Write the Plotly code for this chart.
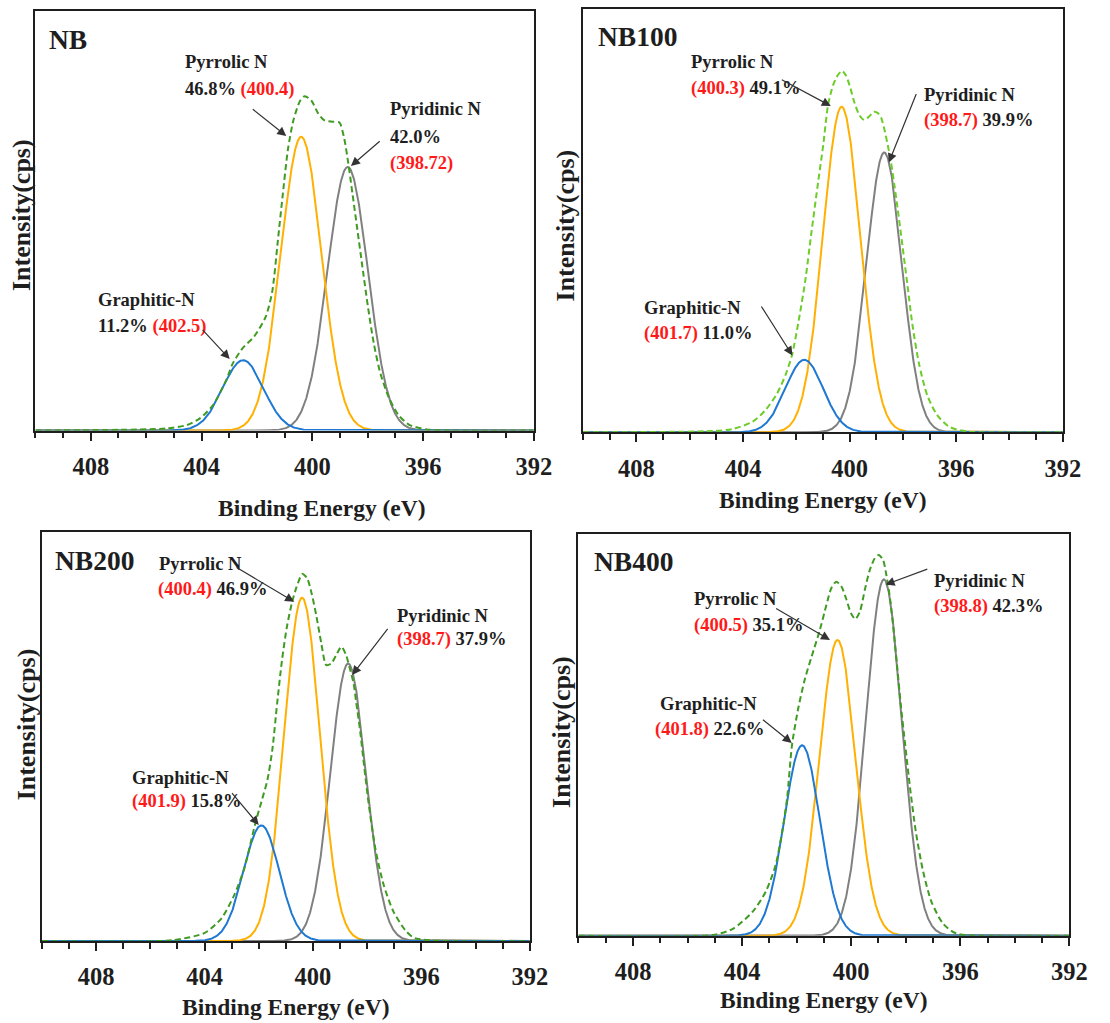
import numpy as np
import plotly.graph_objects as go

W, H = 1110, 1023

SAMPLES = ["NB", "NB100", "NB200", "NB400"]
SPECIES = ["Graphitic-N", "Pyrrolic N", "Pyridinic N"]

# Fitted N 1s components (order: Graphitic-N, Pyrrolic N, Pyridinic N)
BE_NB = [402.5, 400.4, 398.72]
PCT_NB = [11.2, 46.8, 42.0]
FWHM_NB = [1.72, 1.72, 1.72]

BE_NB100 = [401.7, 400.3, 398.7]
PCT_NB100 = [11.0, 49.1, 39.9]
FWHM_NB100 = [1.66, 1.65, 1.56]

BE_NB200 = [401.9, 400.4, 398.7]
PCT_NB200 = [15.8, 46.9, 37.9]
FWHM_NB200 = [1.55, 1.55, 1.55]

BE_NB400 = [401.8, 400.5, 398.8]
PCT_NB400 = [22.6, 35.1, 42.3]
FWHM_NB400 = [1.55, 1.55, 1.55]

# Total N 1s peak area of each sample (relative intensity x eV)
TOTAL_AREA = [2.739, 2.751, 2.955, 3.460]

# Measured N 1s envelopes (binding energy in eV, relative intensity)
ENV_BE_NB = [410.0, 405.24, 404.53, 404.06, 403.58, 403.11, 402.87, 402.52, 402.10,
             401.69, 401.45, 401.24, 401.07, 400.88, 400.68, 400.44, 400.27, 400.03,
             399.79, 399.56, 399.26, 399.02, 398.85, 398.70, 398.55, 398.37, 398.19,
             397.99, 397.78, 397.54, 397.25, 396.89, 396.48, 395.8, 392.0]
ENV_INT_NB = [0.0, 0.005, 0.013, 0.029, 0.061, 0.120, 0.160, 0.196, 0.224,
              0.270, 0.330, 0.455, 0.560, 0.670, 0.740, 0.786, 0.797, 0.786,
              0.756, 0.739, 0.736, 0.734, 0.697, 0.637, 0.565, 0.478, 0.390,
              0.295, 0.208, 0.136, 0.081, 0.037, 0.013, 0.002, 0.0]

ENV_BE_NB100 = [410.0, 405.12, 404.38, 403.64, 403.15, 402.72, 402.41, 402.16, 401.92,
                401.67, 401.43, 401.18, 400.99, 400.81, 400.62, 400.44, 400.28, 400.13,
                399.97, 399.83, 399.64, 399.46, 399.27, 399.09, 398.94, 398.81, 398.69,
                398.57, 398.45, 398.32, 398.20, 398.02, 397.83, 397.65, 397.40, 397.09,
                396.72, 396.26, 395.6, 392.0]
ENV_INT_NB100 = [0.0, 0.003, 0.008, 0.025, 0.053, 0.092, 0.135, 0.183, 0.261,
                 0.356, 0.474, 0.592, 0.679, 0.773, 0.820, 0.844, 0.854, 0.842,
                 0.813, 0.781, 0.750, 0.738, 0.746, 0.757, 0.754, 0.742, 0.714,
                 0.679, 0.639, 0.584, 0.529, 0.442, 0.348, 0.257, 0.163, 0.088,
                 0.041, 0.013, 0.002, 0.0]

ENV_BE_NB200 = [410.0, 405.19, 403.99, 403.38, 402.90, 402.53, 402.29, 402.11, 401.90,
                401.68, 401.50, 401.32, 401.14, 400.96, 400.78, 400.60, 400.39, 400.21,
                400.05, 399.87, 399.69, 399.51, 399.32, 399.14, 398.95, 398.78, 398.64,
                398.50, 398.40, 398.27, 398.11, 397.93, 397.69, 397.39, 397.03, 396.60,
                396.24, 392.0]
ENV_INT_NB200 = [0.0, 0.002, 0.020, 0.055, 0.113, 0.178, 0.243, 0.292, 0.341,
                 0.394, 0.467, 0.582, 0.688, 0.769, 0.826, 0.867, 0.898, 0.887,
                 0.851, 0.794, 0.728, 0.675, 0.679, 0.700, 0.720, 0.700, 0.667,
                 0.630, 0.582, 0.520, 0.427, 0.329, 0.223, 0.137, 0.072, 0.027,
                 0.007, 0.0]

ENV_BE_NB400 = [410.0, 405.06, 404.34, 403.61, 403.13, 402.77, 402.53, 402.35, 402.17,
                401.93, 401.69, 401.45, 401.15, 400.91, 400.73, 400.55, 400.37, 400.19,
                400.01, 399.85, 399.68, 399.50, 399.32, 399.14, 398.99, 398.83, 398.71,
                398.56, 398.44, 398.32, 398.18, 398.02, 397.84, 397.63, 397.36, 397.06,
                396.64, 396.16, 392.0]
ENV_INT_NB400 = [0.0, 0.002, 0.017, 0.060, 0.110, 0.176, 0.259, 0.342, 0.475,
                 0.570, 0.641, 0.695, 0.761, 0.823, 0.865, 0.881, 0.871, 0.840,
                 0.803, 0.788, 0.807, 0.861, 0.910, 0.939, 0.948, 0.935, 0.898,
                 0.831, 0.757, 0.674, 0.574, 0.475, 0.367, 0.259, 0.159, 0.085,
                 0.031, 0.006, 0.0]

TICK_BE = [408, 404, 400, 396, 392]

BE = [BE_NB, BE_NB100, BE_NB200, BE_NB400]
PCT = [PCT_NB, PCT_NB100, PCT_NB200, PCT_NB400]
FWHM = [FWHM_NB, FWHM_NB100, FWHM_NB200, FWHM_NB400]
ENV_BE = [ENV_BE_NB, ENV_BE_NB100, ENV_BE_NB200, ENV_BE_NB400]
ENV_INT = [ENV_INT_NB, ENV_INT_NB100, ENV_INT_NB200, ENV_INT_NB400]

# ---- styling ----
FONT = "Liberation Serif, Times New Roman, serif"
INK = "#1e1e1e"
RED = "#ff1a1a"
COMP_COLORS = ["#1f78d2", "#ffb000", "#808080"]
ENV_COLORS = ["#3f9b22", "#6ccc28", "#3f9b22", "#3f9b22"]

# plot frames in page pixels: (left, top, right, bottom)
BOXES = [(36, 11, 542.6, 430.5), (592.8, 9, 1080.3, 432.3),
         (42.6, 532.3, 538.5, 941.0), (588, 534, 1087, 935.7)]


def fx(px):
    return px / W


def fy(py):
    return 1 - py / H


def gauss(x, center, area, fwhm):
    height = area / (fwhm * np.sqrt(np.pi / (4 * np.log(2))))
    return height * np.exp(-4 * np.log(2) * (x - center) ** 2 / fwhm ** 2)


def red(s):
    return f"<span style='color:{RED}'>{s}</span>"


fig = go.Figure()
grid = np.linspace(392, 410, 1801)

for i, sample in enumerate(SAMPLES):
    sfx = "" if i == 0 else str(i + 1)
    xa, ya = "x" + sfx, "y" + sfx
    # grey, orange, blue, then the envelope on top
    for j in [2, 1, 0]:
        area = TOTAL_AREA[i] * PCT[i][j] / 100
        fig.add_trace(go.Scatter(
            x=grid, y=gauss(grid, BE[i][j], area, FWHM[i][j]),
            mode="lines", line=dict(color=COMP_COLORS[j], width=2),
            name=SPECIES[j], showlegend=False, xaxis=xa, yaxis=ya,
            hoverinfo="skip"))
    fig.add_trace(go.Scatter(
        x=ENV_BE[i], y=ENV_INT[i], mode="lines",
        line=dict(color=ENV_COLORS[i], width=2, dash="6px,3.5px",
                  shape="spline", smoothing=0.7),
        name=sample, showlegend=False, xaxis=xa, yaxis=ya, hoverinfo="skip"))

    x0, y0, x1, y1 = BOXES[i]
    fig.layout["xaxis" + sfx] = dict(
        domain=[fx(x0), fx(x1)], anchor=ya, range=[410, 392],
        tickmode="array", tickvals=TICK_BE, ticks="outside", ticklen=8,
        tickwidth=2, tickcolor=INK, showline=True, linewidth=2, linecolor=INK,
        mirror=True, showgrid=False, zeroline=False,
        tickfont=dict(family=FONT, size=24.5, color=INK, weight="bold"),
        ticklabelstandoff=5,
        minor=dict(ticks="outside", ticklen=5.5, tickwidth=1.6, tickcolor=INK,
                   tickmode="linear", tick0=392, dtick=1, showgrid=False))
    fig.layout["yaxis" + sfx] = dict(
        domain=[fy(y1), fy(y0)], anchor=xa, range=[0, 1],
        showticklabels=False, ticks="", showline=True, linewidth=2,
        linecolor=INK, mirror=True, showgrid=False, zeroline=False)

# ---- text ----
ann = []


def text(s, px, py, size=18.5, anchor="left"):
    ann.append(dict(text=s, x=fx(px), y=fy(py), xref="paper", yref="paper",
                    xanchor=anchor, yanchor="middle", showarrow=False,
                    font=dict(family=FONT, size=size, color=INK, weight="bold")))


def arrow(tx, ty, hx, hy):
    ann.append(dict(text="", x=fx(hx), y=fy(hy), xref="paper", yref="paper",
                    ax=tx - hx, ay=ty - hy, axref="pixel", ayref="pixel",
                    showarrow=True, arrowhead=2, arrowsize=1.5, arrowwidth=1.2,
                    arrowcolor="#333333", standoff=0, startstandoff=0))


def pct_s(i, j):
    return f"{PCT[i][j]:.1f}%"


def be_s(i, j):
    return red(f"({BE[i][j]:g})")


# panel tags
TAG_POS = [(48, 40), (605.7, 36.7), (53.7, 560), (602.1, 561.7)]
for i, sample in enumerate(SAMPLES):
    text(sample, TAG_POS[i][0], TAG_POS[i][1], size=27.5)

# NB
text(SPECIES[1], 186.5, 61.7)
text(f"{pct_s(0, 1)} {be_s(0, 1)}", 186.5, 89.7)
text(SPECIES[2], 394, 109)
text(pct_s(0, 2), 394, 136.7)
text(be_s(0, 2), 394, 164)
text(SPECIES[0], 98, 300)
text(f"{pct_s(0, 0)} {be_s(0, 0)}", 98, 326.7)
arrow(256, 108, 291, 136)
arrow(387, 140, 356.7, 166)
arrow(205, 328.3, 233.5, 359)

# NB100
text(SPECIES[1], 700.5, 62)
text(f"{be_s(1, 1)} {pct_s(1, 1)}", 700, 88.3)
text(SPECIES[2], 937, 94.5)
text(f"{be_s(1, 2)} {pct_s(1, 2)}", 937, 120)
text(SPECIES[0], 652.4, 308.3)
text(f"{be_s(1, 0)} {pct_s(1, 0)}", 652.4, 333.3)
arrow(794, 79, 844.5, 106)
arrow(931.5, 92.5, 903.5, 162.5)
arrow(773.5, 305, 805.5, 355.5)

# NB200
text(SPECIES[1], 159.2, 563.7)
text(f"{be_s(2, 1)} {pct_s(2, 1)}", 158.5, 589.7)
text(SPECIES[2], 401.4, 615.5)
text(f"{be_s(2, 2)} {pct_s(2, 2)}", 401.4, 639.7)
text(SPECIES[0], 132.4, 777.8)
text(f"{be_s(2, 0)} {pct_s(2, 0)}", 131.7, 801.7)
arrow(240, 566.7, 299, 601.7)
arrow(394.6, 627.3, 358, 675)
arrow(235, 791.7, 263, 825)

# NB400
text(SPECIES[2], 947.7, 580.5)
text(f"{be_s(3, 2)} {pct_s(3, 2)}", 947.7, 606.7)
text(SPECIES[1], 703.9, 598.8)
text(f"{be_s(3, 1)} {pct_s(3, 1)}", 703.9, 625)
text(SPECIES[0], 668.8, 704)
text(f"{be_s(3, 0)} {pct_s(3, 0)}", 664.2, 729.7)
arrow(943.4, 568.6, 900.2, 584.6)
arrow(788.3, 607.7, 843.7, 640)
arrow(774.5, 718.6, 804.8, 743)

# axis titles
XTITLE_POS = [(327, 508), (837, 500), (291.2, 1006.7), (838, 1000)]
YTITLE_POS = [(21.4, 215), (574.8, 225), (26.8, 724), (570.5, 731.7)]
for i in range(4):
    text("Binding Energy (eV)", XTITLE_POS[i][0], XTITLE_POS[i][1],
         size=23.5, anchor="center")
    ann.append(dict(text="Intensity(cps)", x=fx(YTITLE_POS[i][0]),
                    y=fy(YTITLE_POS[i][1]), xref="paper", yref="paper",
                    xanchor="center", yanchor="middle", showarrow=False,
                    textangle=-90,
                    font=dict(family=FONT, size=26, color=INK, weight="bold")))

fig.update_layout(
    width=W, height=H, margin=dict(l=0, r=0, t=0, b=0),
    paper_bgcolor="white", plot_bgcolor="white",
    annotations=ann, showlegend=False,
    font=dict(family=FONT, color=INK),
)

fig.write_html("out.html")
